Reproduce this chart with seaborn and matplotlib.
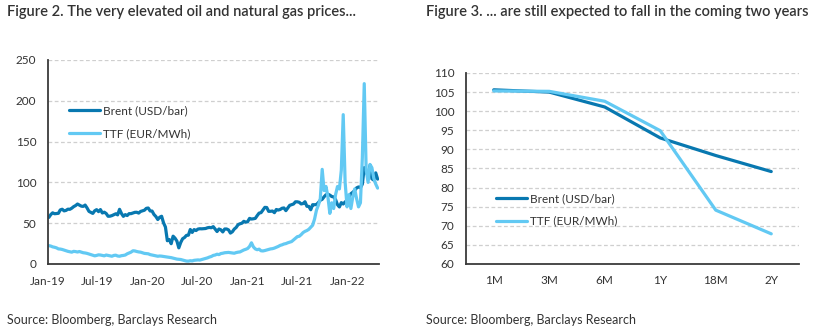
import numpy as np
import pandas as pd
import matplotlib
matplotlib.use("Agg")
import matplotlib.pyplot as plt
import matplotlib.dates as mdates
from matplotlib.ticker import MultipleLocator, FixedLocator, NullFormatter
import seaborn as sns

# ---------------- data ----------------
start_week = "2019-01-04"   # weekly (Friday) observations

brent = [
    # 2019
    57.1, 60.5, 62.7, 61.6,
    61.9, 62.1, 66.3, 67.1,
    65.1, 65.7, 67.2, 67.0, 68.4,
    70.3, 71.6, 73.5, 72.2,
    70.9, 70.6, 72.2, 68.7, 64.5,
    63.3, 62.0, 65.2, 66.6,
    64.2, 66.7, 62.5, 63.5,
    61.9, 58.5, 58.6, 59.3, 60.4,
    61.5, 60.2, 67.0, 61.9,
    58.4, 60.5, 59.4, 61.7,
    61.7, 62.5, 63.3, 63.4, 62.4,
    64.4, 65.2, 65.9, 68.2,
    # 2020
    68.6, 65.0, 64.9, 60.7, 58.2,
    54.5, 57.3, 58.5, 50.5,
    45.3, 28.5, 30.0, 24.9,
    34.1, 31.7, 28.1, 19.8,
    26.4, 31.0, 32.5, 35.1, 35.3,
    42.3, 38.7, 42.2, 41.0,
    42.8, 43.2, 43.1, 43.3, 43.5,
    44.4, 44.8, 44.4, 45.8,
    42.7, 39.8, 42.9, 41.9,
    39.3, 42.9, 42.9, 41.8, 37.9,
    39.5, 42.8, 44.8, 48.2,
    49.3, 50.0, 52.3, 51.3,
    # 2021
    51.8, 55.9, 55.1, 55.4, 55.9,
    59.3, 62.4, 62.9, 66.1,
    69.4, 69.2, 64.5, 64.6,
    64.9, 62.9, 66.8, 66.1, 66.8,
    68.3, 68.7, 65.4, 68.7,
    71.9, 72.7, 73.5, 76.2,
    76.2, 75.6, 73.6, 74.1, 76.3,
    70.7, 70.6, 66.5, 72.7,
    72.6, 72.9, 75.3, 78.1,
    79.3, 82.4, 84.9, 85.5, 84.4,
    82.7, 82.2, 78.9, 72.7,
    69.9, 75.2, 73.5, 76.1, 77.8,
    # 2022
    81.8, 86.1, 87.9, 90.0,
    93.3, 94.4, 93.5, 97.9,
    118.1, 112.7, 107.9, 121.0,
    104.4, 102.8, 111.7, 104.0,
]

ttf = [
    # 2019
    22.5, 22.0, 21.0, 20.5,
    19.8, 18.5, 18.3, 17.8,
    17.0, 16.2, 15.5, 15.0, 14.5,
    15.5, 15.2, 14.7, 15.3,
    14.5, 13.8, 13.5, 13.0, 12.2,
    11.5, 10.8, 10.0, 10.5,
    11.2, 11.0, 10.5, 10.0,
    11.0, 10.5, 10.0, 9.5, 10.5,
    10.8, 9.8, 9.5, 10.2,
    10.5, 11.0, 12.5, 13.5,
    14.5, 16.2, 16.0, 15.3, 14.8,
    14.5, 13.8, 13.0, 12.8,
    # 2020
    12.5, 11.5, 11.0, 10.5, 10.0,
    9.5, 9.8, 9.6, 9.2,
    8.8, 8.5, 8.2, 7.8,
    7.2, 6.5, 6.0, 5.8,
    5.5, 4.8, 4.2, 3.6, 3.5,
    4.0, 3.8, 4.5, 4.8,
    5.0, 4.8, 5.5, 6.2, 6.8,
    7.5, 8.5, 9.2, 10.5,
    11.0, 12.0, 11.5, 12.8,
    13.2, 13.8, 14.0, 14.2, 13.8,
    13.5, 13.2, 14.0, 14.5,
    14.8, 16.0, 17.2, 18.0,
    # 2021
    19.0, 21.5, 26.0, 21.0, 18.5,
    17.5, 18.2, 16.2, 16.0,
    16.5, 17.2, 17.8, 18.5,
    18.8, 19.5, 20.5, 21.5, 22.8,
    23.5, 24.5, 25.0, 26.0,
    26.8, 27.5, 29.5, 31.5,
    33.5, 34.0, 36.0, 38.5, 40.0,
    41.0, 42.5, 45.0, 47.5,
    55.0, 66.0, 72.0, 80.0,
    116.0, 90.0, 95.0, 82.0, 62.0,
    75.0, 68.0, 85.0, 95.0,
    92.0, 115.0, 183.0, 100.0, 70.0,
    # 2022
    85.0, 68.0, 82.0, 92.0,
    80.0, 70.0, 75.0, 130.0,
    221.0, 115.0, 100.0, 122.0,
    118.0, 105.0, 98.0, 93.0,
]

tenors = ["1M", "3M", "6M", "1Y", "18M", "2Y"]
brent_fwd = [105.6, 105.0, 101.1, 93.0, 88.4, 84.2]
ttf_fwd = [105.3, 105.2, 102.6, 94.9, 74.1, 67.9]

label_brent = "Brent (USD/bar)"
label_ttf = "TTF (EUR/MWh)"
title_left = "Figure 2. The very elevated oil and natural gas prices..."
title_right = "Figure 3. ... are still expected to fall in the coming two years"
source = "Source: Bloomberg, Barclays Research"

# ---------------- style ----------------
sns.set_style("white")
plt.rcParams["font.family"] = ["Lato", "DejaVu Sans"]

C_BRENT = "#0878b0"
C_TTF = "#62c9f3"
TXT = "#333333"
SPINE = "#3a3a3a"
GRID = "#cfcfcf"
LW = 2.3

fig = plt.figure(figsize=(8.22, 3.32), dpi=100)

dates_b = pd.date_range(start_week, periods=len(brent), freq="W-FRI")
dates_t = pd.date_range(start_week, periods=len(ttf), freq="W-FRI")
df_b = pd.DataFrame({"date": dates_b, "value": brent})
df_t = pd.DataFrame({"date": dates_t, "value": ttf})

def style_axes(ax):
    for s in ["top", "right"]:
        ax.spines[s].set_visible(False)
    for s in ["left", "bottom"]:
        ax.spines[s].set_color(SPINE)
        ax.spines[s].set_linewidth(1.3)
    ax.yaxis.grid(True, color=GRID, linestyle=(0, (3, 2)), linewidth=0.9)
    ax.xaxis.grid(False)
    ax.set_axisbelow(True)
    ax.tick_params(axis="both", colors=SPINE, labelcolor=TXT, labelsize=8.5,
                   length=3.5, width=1.0, direction="out")
    ax.set_xlabel("")
    ax.set_ylabel("")

# ---- left chart ----
axL = fig.add_axes([48 / 822, 1 - 264 / 332, (379 - 48) / 822, (264 - 60) / 332])
sns.lineplot(data=df_b, x="date", y="value", color=C_BRENT, linewidth=LW,
             label=label_brent, ax=axL)
sns.lineplot(data=df_t, x="date", y="value", color=C_TTF, linewidth=LW,
             label=label_ttf, ax=axL)
axL.set_ylim(0, 250)
axL.set_xlim(pd.Timestamp("2019-01-01"), pd.Timestamp("2022-04-27"))
axL.yaxis.set_major_locator(MultipleLocator(50))
axL.xaxis.set_major_locator(mdates.MonthLocator(bymonth=[1, 7]))
axL.xaxis.set_major_formatter(mdates.DateFormatter("%b-%y"))
style_axes(axL)
axL.tick_params(axis="x", pad=5)
axL.tick_params(axis="y", pad=5)
for gl, v in zip(axL.get_ygridlines(), axL.get_yticks()):
    if v == 0:
        gl.set_visible(False)
h, l = axL.get_legend_handles_labels()
axL.legend(h, l, loc="upper left", bbox_to_anchor=(0.063, 0.778), frameon=False,
           fontsize=8.5, handlelength=2.6, handletextpad=0.3, labelspacing=1.0,
           borderpad=0, borderaxespad=0, labelcolor=TXT)

# ---- right chart ----
axR = fig.add_axes([466 / 822, 1 - 264 / 332, (799 - 466) / 822, (264 - 73) / 332])
sns.lineplot(x=tenors, y=brent_fwd, color=C_BRENT, linewidth=LW, sort=False,
             label=label_brent, ax=axR)
sns.lineplot(x=tenors, y=ttf_fwd, color=C_TTF, linewidth=LW, sort=False,
             label=label_ttf, ax=axR)
axR.set_ylim(60, 110)
axR.set_xlim(-0.5, len(tenors) - 0.5)
axR.yaxis.set_major_locator(MultipleLocator(5))
style_axes(axR)
axR.set_xticks(range(len(tenors)))
axR.set_xticklabels(tenors)
axR.xaxis.set_minor_locator(FixedLocator(np.arange(-0.5, len(tenors), 1.0)))
axR.xaxis.set_minor_formatter(NullFormatter())
axR.tick_params(axis="x", which="major", length=0, pad=8)
axR.tick_params(axis="x", which="minor", length=3.5, width=1.0, colors=SPINE)
axR.tick_params(axis="y", pad=5)
for gl, v in zip(axR.get_ygridlines(), axR.get_yticks()):
    if v == 60:
        gl.set_visible(False)
h, l = axR.get_legend_handles_labels()
axR.legend(h, l, loc="upper left", bbox_to_anchor=(0.09, 0.372), frameon=False,
           fontsize=8.5, handlelength=2.6, handletextpad=0.3, labelspacing=1.0,
           borderpad=0, borderaxespad=0, labelcolor=TXT)

# ---- titles and sources ----
fig.text(7 / 822, 1 - 12 / 332, title_left, ha="left", va="center",
         fontsize=10.5, fontweight="semibold", color=TXT)
fig.text(426 / 822, 1 - 12 / 332, title_right, ha="left", va="center",
         fontsize=10.5, fontweight="semibold", color=TXT)
fig.text(7 / 822, 1 - 320 / 332, source, ha="left", va="center",
         fontsize=9, color=TXT)
fig.text(426 / 822, 1 - 320 / 332, source, ha="left", va="center",
         fontsize=9, color=TXT)

fig.savefig("out.png", dpi=100)
